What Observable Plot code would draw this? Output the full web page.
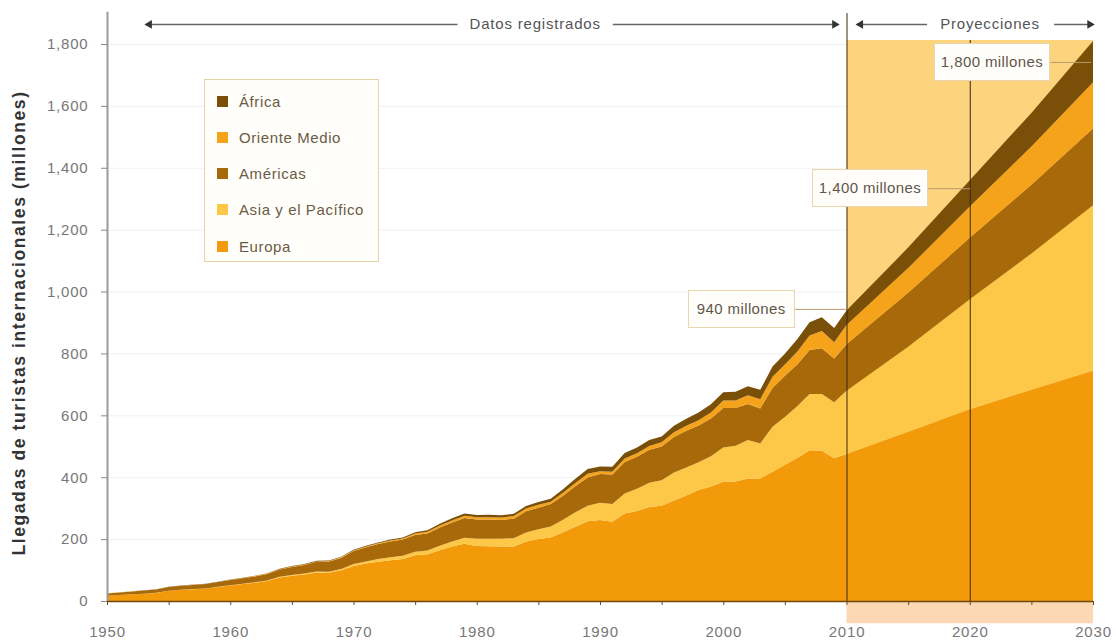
<!DOCTYPE html>
<html>
<head>
<meta charset="utf-8">
<script src="https://cdn.jsdelivr.net/npm/d3@7"></script>
<script src="https://cdn.jsdelivr.net/npm/@observablehq/plot@0.6"></script>
<style>
  body { margin: 0; background: #fff; font-family: "Liberation Sans", Arial, sans-serif; }
  #wrap { position: relative; width: 1116px; height: 641px; overflow: hidden; }
  .legend { position: absolute; left: 204px; top: 79px; width: 175px; height: 183px;
            box-sizing: border-box; border: 1px solid #e6d2a6; background: #fffefa; }
  .legend .item { position: absolute; left: 12px; height: 16px; display: flex; align-items: center;
                  font-size: 15px; letter-spacing: 0.6px; color: #6b5b44; white-space: nowrap; }
  .legend .sw { width: 11px; height: 11px; margin-right: 11px; flex: none; }
  .callout { position: absolute; box-sizing: border-box; height: 38px; line-height: 36px; padding: 0 6px;
             border: 1px solid #e9d6ae; background: #fffefb; color: #5f564a; font-size: 15px;
             white-space: nowrap; letter-spacing: 0.4px; }
  .callout.wide { padding: 0 8px; }
  .chart text { letter-spacing: 0.8px; }
</style>
</head>
<body>
<div id="wrap"></div>
<script>
// ---------- data (millions of international tourist arrivals) ----------
const histYears = d3.range(1950, 2011);
const projYears = [2015, 2020, 2025, 2030];
const years = histYears.concat(projYears);

const regions = ["Europa", "Asia y el Pacífico", "Américas", "Oriente Medio", "África"];
const colors  = ["#f39a0b", "#fdc748", "#a8690a", "#f6a31c", "#7a4f07"];
const legendOrder = ["África", "Oriente Medio", "Américas", "Asia y el Pacífico", "Europa"];

const europa = [16.8,19.0,21.5,23.5,26.0,33.0,36.0,38.0,40.0,45.0,
  50.4,55.0,59.0,65.0,76.0,82.0,86.0,92.0,91.0,99.0,
  113.0,121.0,127.0,132.0,136.0,148.0,151.0,164.0,176.0,185.0,
  178.0,177.0,176.0,176.0,192.0,200.0,205.0,222.0,240.0,258.0,
  261.5,256.0,283.0,291.0,304.0,308.0,325.0,341.0,359.0,370.0,
  385.6,386.0,396.0,396.0,418.0,440.7,462.0,487.0,485.2,461.5,
  475.3, 547,620,683,744];
const asia = [0.2,0.2,0.3,0.3,0.3,0.5,0.5,0.6,0.6,0.7,
  0.9,1.0,1.3,1.6,2.0,2.3,2.7,3.2,3.6,4.3,
  6.2,7.0,8.5,9.5,10.0,11.0,12.5,14.5,16.5,19.5,
  23.0,24.5,25.5,27.0,29.5,32.0,36.0,40.5,47.0,49.5,
  55.8,57.5,64.0,72.0,78.0,82.0,90.0,90.5,89.5,98.0,
  110.1,115.5,124.0,113.0,145.0,153.6,167.0,182.0,184.1,181.1,
  204.0, 275,355,440,535];
const americas = [7.5,8.5,9.2,9.8,10.5,11.5,12.5,13.2,14.0,15.3,
  16.7,17.8,19.2,21.0,23.5,25.5,28.0,31.5,33.0,36.0,
  42.3,46.0,48.5,51.0,52.5,54.0,55.0,59.0,61.0,63.5,
  62.3,62.0,60.5,63.0,68.5,69.5,72.5,77.5,83.5,91.5,
  92.8,95.5,102.0,103.0,106.5,109.0,115.0,118.5,119.0,121.5,
  128.2,122.0,116.5,113.0,125.5,133.3,135.5,142.5,147.8,140.7,
  150.6, 174,199,222,248];
const orienteMedio = [0.2,0.2,0.3,0.3,0.3,0.4,0.4,0.5,0.5,0.5,
  0.6,0.7,0.9,1.2,1.5,1.5,1.5,1.3,1.5,1.9,
  1.9,2.2,2.3,3.0,3.5,4.8,5.5,6.2,7.0,7.8,
  7.1,7.5,7.6,8.5,8.6,9.5,7.5,9.8,10.5,12.5,
  9.6,8.5,11.5,11.5,12.5,13.7,15.0,16.0,16.5,20.0,
  24.1,24.5,28.0,30.0,36.0,36.3,41.0,46.5,55.6,52.9,
  62.0, 80,101,124,149];
const africa = [0.5,0.5,0.5,0.5,0.5,0.6,0.6,0.7,0.7,0.7,
  0.8,0.9,1.0,1.2,1.5,1.6,1.7,1.8,2.0,2.2,
  2.4,2.6,2.8,3.4,3.6,4.5,4.9,5.6,6.6,7.3,
  7.2,7.6,7.3,7.3,8.2,9.1,9.5,11.0,13.8,15.0,
  15.0,16.3,18.0,18.5,19.0,18.9,21.5,23.0,25.0,26.0,
  26.2,28.3,29.5,30.5,33.0,35.4,40.5,43.0,44.4,45.9,
  47.0, 66,85,108,134];

const yTicks = [0,200,400,600,800,1000,1200,1400,1600,1800];
const xLabelTicks = [1950,1960,1970,1980,1990,2000,2010,2020,2030];
const xMinorTicks = [1950,1955,1960,1965,1970,1975,1980,1985,1990,1995,2000,2005,2010,2015,2020,2025,2030];
const yLabel = "Llegadas de turistas internacionales (millones)";

// annotation placement (years / millions)
const projection = { start: 2010, end: 2030, top: 1813 };
const topY = 1865;
const topTexts = [
  { x: 1984.7, text: "Datos registrados" },
  { x: 2021.6, text: "Proyecciones" }
];
const topSegs = [
  { x1: 1953.1, x2: 1978.4 }, { x1: 1991.0, x2: 2009.3 },
  { x1: 2010.8, x2: 2016.5 }, { x1: 2026.8, x2: 2030.0 }
];
const topHeads = [
  { x: 1953.4, rot: -90 }, { x: 2009.0, rot: 90 },
  { x: 2011.1, rot: -90 }, { x: 2029.7, rot: 90 }
];
const callouts = [
  { label: "940 millones",   from: 2005.8, to: 2009.9, value: 944, wide: true },
  { label: "1,400 millones", from: 2016.6, to: 2020.0, value: 1334, wide: false },
  { label: "1,800 millones", from: 2026.5, to: 2029.8, value: 1742, wide: false }
];

// ---------- build tidy table ----------
const seriesByRegion = {
  "Europa": europa, "Asia y el Pacífico": asia, "Américas": americas,
  "Oriente Medio": orienteMedio, "África": africa
};
const data = [];
for (const r of regions) years.forEach((y, i) => data.push({ year: y, region: r, value: seriesByRegion[r][i] }));

const font = '"Liberation Sans", Arial, sans-serif';

const plot = Plot.plot({
  width: 1116, height: 641,
  marginLeft: 107, marginRight: 23, marginTop: 44, marginBottom: 40,
  className: "chart",
  style: { fontFamily: font, fontSize: "15px", background: "transparent", overflow: "visible" },
  x: { domain: [1950, 2030] },
  y: { domain: [0, 1800] },
  color: { domain: regions, range: colors },
  marks: [
    Plot.gridY({ ticks: yTicks, stroke: "#000", strokeOpacity: 0.06 }),
    Plot.rect([projection], { x1: "start", x2: "end", y1: 0, y2: "top", fill: "#fdd47e" }),
    Plot.rect([projection], { x1: "start", x2: "end", y1: 0, y2: -72, fill: "#fcd8b4" }),
    Plot.areaY(data, { x: "year", y: "value", fill: "region", order: regions, curve: "linear" }),
    Plot.ruleX([projection.start], { y1: 0, y2: 1900, stroke: "#3b2a12", strokeWidth: 1 }),
    Plot.ruleX([2020], { y1: 0, y2: projection.top, stroke: "#3b2a12", strokeWidth: 1 }),
    Plot.ruleX([1950], { y1: 0, y2: 1904, stroke: "#9a9a9a", strokeWidth: 2 }),
    Plot.ruleY([0], { x1: 1950, x2: 2030, stroke: "#6e4a12", strokeWidth: 1.5 }),
    Plot.axisY({ ticks: yTicks, tickFormat: d3.format(","), tickSize: 6, tickPadding: 13,
                 stroke: "#888", fill: "#777", label: null, fontSize: 15 }),
    Plot.text([yLabel],
              { frameAnchor: "left", textAnchor: "middle", rotate: -90, dx: -88, text: d => d,
                fontWeight: "bold", fontSize: 17.5, fill: "#333" }),
    Plot.axisX({ ticks: xMinorTicks, tickSize: 4, tickFormat: () => "", stroke: "#6e4a12", label: null }),
    Plot.axisX({ ticks: xLabelTicks, tickSize: 0, tickPadding: 25, tickFormat: d => String(d),
                 fill: "#777", label: null, fontSize: 15 }),
    Plot.link(topSegs, { x1: "x1", x2: "x2", y1: topY, y2: topY, stroke: "#666", strokeWidth: 1.5 }),
    Plot.dot(topHeads, { x: "x", y: topY, symbol: "triangle", r: 3.2, fill: "#333", stroke: "none", rotate: "rot" }),
    Plot.text(topTexts, { x: "x", y: topY, text: "text", fill: "#555", fontSize: 15 }),
    Plot.link(callouts, { x1: "from", x2: "to", y1: "value", y2: "value", stroke: "#b9996a", strokeWidth: 1 })
  ]
});

const wrap = document.getElementById("wrap");
wrap.appendChild(plot);

// tracking on the rotated axis title
d3.select(plot).selectAll("text").filter(function () { return this.textContent === yLabel; })
  .style("letter-spacing", "1.6px");

// legend
const leg = document.createElement("div");
leg.className = "legend";
legendOrder.forEach((r, i) => {
  const it = document.createElement("div");
  it.className = "item";
  it.style.top = (13 + i * 36.3) + "px";
  const sw = document.createElement("span");
  sw.className = "sw";
  sw.style.background = colors[regions.indexOf(r)];
  const tx = document.createElement("span");
  tx.textContent = r;
  it.appendChild(sw); it.appendChild(tx);
  leg.appendChild(it);
});
wrap.appendChild(leg);

// callout boxes anchored through the plot scales
const xs = plot.scale("x"), ys = plot.scale("y");
callouts.forEach(c => {
  const b = document.createElement("div");
  b.className = "callout" + (c.wide ? " wide" : "");
  b.textContent = c.label;
  wrap.appendChild(b);
  const w = b.offsetWidth;
  b.style.left = (xs.apply(c.from) - w) + "px";
  b.style.top = (ys.apply(c.value) - 19) + "px";
});
</script>
</body>
</html>
